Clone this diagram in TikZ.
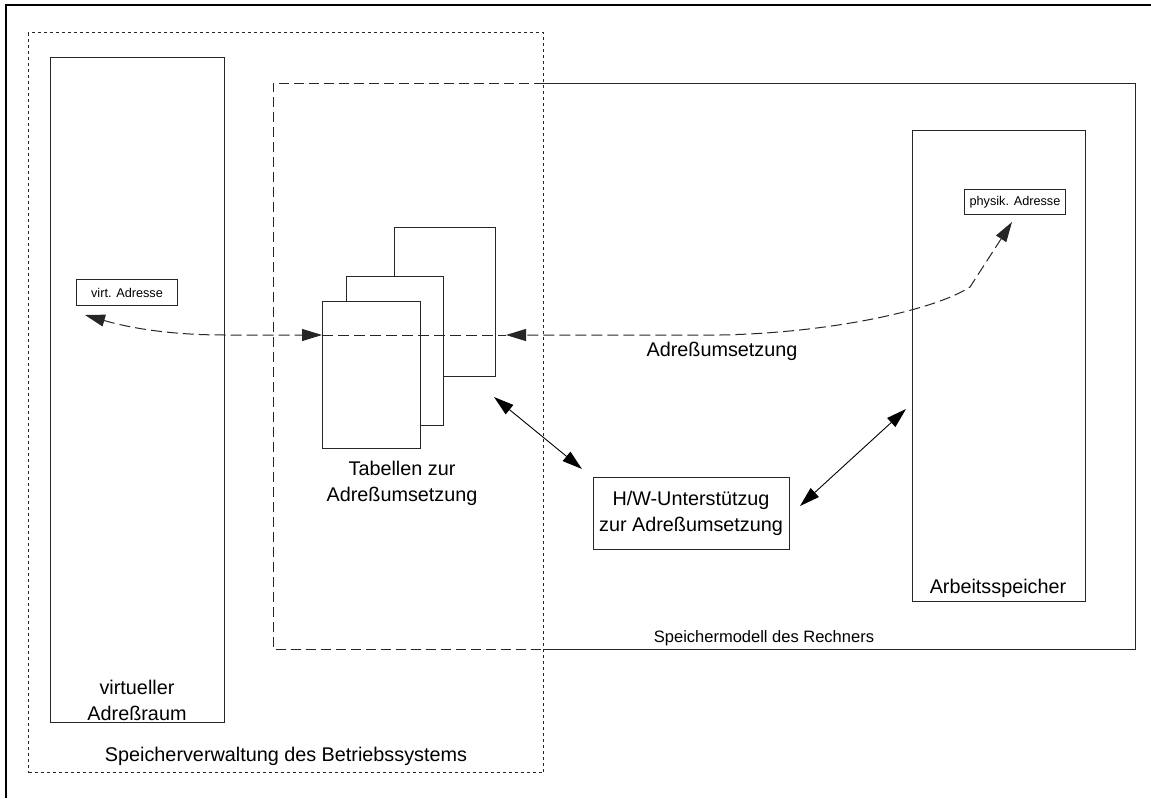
\documentclass[tikz,border=0pt]{standalone}
\usepackage{fontspec}
\setmainfont{Liberation Sans}
\usetikzlibrary{arrows.meta}
\begin{document}
\begin{tikzpicture}[x=1pt,y=-1pt,
  frame/.style={draw=black!85, line width=1pt, inner sep=0pt},
  sheet/.style={frame, fill=white, anchor=north west},
  bigtext/.style={font=\fontsize{19.8}{26}\selectfont, align=center, inner sep=0pt},
  midtext/.style={font=\fontsize{16.5}{20}\selectfont, inner sep=0pt},
  smalltext/.style={font=\fontsize{12.7}{15}\selectfont},
  osline/.style={draw=black!85, line width=1pt, dash pattern=on 3pt off 3pt},
  modelline/.style={draw=black!85, line width=1pt, dash pattern=on 10pt off 5pt},
  flow/.style={draw=black!85, line width=1pt, dash pattern=on 11pt off 5pt},
  tipboth/.style={{Triangle[length=20pt,width=12pt]}-{Triangle[length=20pt,width=12pt]}},
  link/.style={draw=black, line width=0.9pt, tipboth}
]
\useasboundingbox (0,0) rectangle (1151,798);

% page frame (top and left edges)
\draw[line width=2.5pt] (6,798) -- (6,5) -- (1151,5);

% memory management of the operating system
\node[osline, inner sep=0pt, minimum width=515pt, minimum height=740pt, anchor=north west] (os) at (28,32) {};
\node[bigtext, anchor=base] (oslabel) at (286,761) {Speicherverwaltung des Betriebssystems};

% virtual address space
\node[frame, minimum width=174pt, minimum height=665pt, anchor=north west] (vas) at (50,57) {};
\node[bigtext] (vaslabel) at (137,700) {virtueller\\Adreßraum};
\node[frame, smalltext, minimum width=101pt, minimum height=26pt, anchor=north west] (virt) at (76,279) {virt. Adresse};

% memory model of the computer: dashed inside the OS frame, solid outside
\node[inner sep=0pt, minimum width=862pt, minimum height=566pt, anchor=north west] (model) at (273,83) {};
\draw[modelline] (os.east |- model.north) -- (model.north west) -- (model.south west) -- (os.east |- model.south);
\draw[frame] (os.east |- model.north) -- (model.north east) -- (model.south east) -- (os.east |- model.south);
\node[midtext, anchor=base] (modellabel) at (764,642) {Speichermodell des Rechners};

% main memory
\node[frame, minimum width=173pt, minimum height=471pt, anchor=north west] (ram) at (912,130) {};
\node[bigtext, anchor=base] (ramlabel) at (998,593) {Arbeitsspeicher};
\node[frame, smalltext, minimum width=101pt, minimum height=25pt, anchor=north west] (phys) at (964,189) {physik. Adresse};

% stack of translation tables
\node[sheet, minimum width=101pt, minimum height=149pt] (tab3) at (394,227) {};
\node[sheet, minimum width=97pt, minimum height=149pt] (tab2) at (346,276) {};
\node[sheet, minimum width=98pt, minimum height=147pt] (tab1) at (322,301) {};
\node[bigtext] (tablabel) at (402,483) {Tabellen zur\\Adreßumsetzung};

% hardware support
\node[frame, bigtext, inner sep=0pt, minimum width=196pt, minimum height=72pt] (hw) at (691,513) {H/W-Unterstützug\\zur Adreßumsetzung};

% connector end points
\coordinate (vtip) at (85,315);
\coordinate (tin) at (322,335);
\coordinate (tout) at (506,335);
\coordinate (ptip) at (1012,222);
\coordinate (pbend) at (970,287);
\coordinate (tabcorner) at (494,397);
\coordinate (hwin) at (582,469);
\coordinate (hwout) at (800,506);
\coordinate (ramin) at (906,409);

% address translation paths
\draw[flow, tipboth] (vtip) .. controls (130,328) and (170,335) .. (225,335) -- (tin);
\draw[flow] (tin) -- (tout);
\draw[flow, tipboth] (ptip) -- (pbend) .. controls (935,310) and (830,333) .. (720,335) -- (tout);
\node[bigtext, anchor=base] (translabel) at (722,356) {Adreßumsetzung};

% hardware links
\draw[link] (tabcorner) -- (hwin);
\draw[link] (hwout) -- (ramin);
\end{tikzpicture}
\end{document}
